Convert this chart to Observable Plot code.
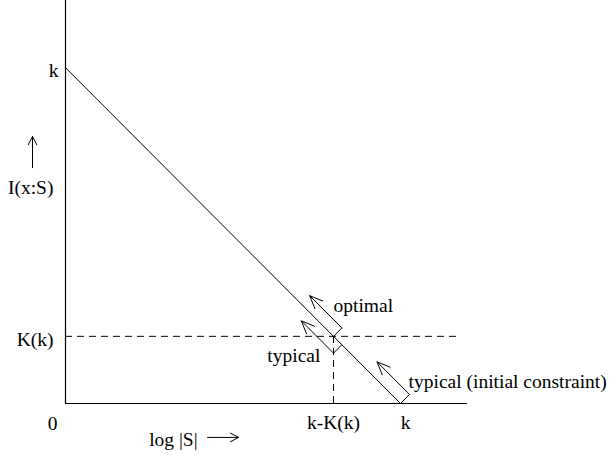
<!DOCTYPE html>
<html>
<head>
<meta charset="utf-8">
<script src="https://cdn.jsdelivr.net/npm/d3@7"></script>
<script src="https://cdn.jsdelivr.net/npm/@observablehq/plot@0.6"></script>
<style>
  html, body { margin: 0; padding: 0; background: #fff; }
  #chart svg { display: block; }
</style>
</head>
<body>
<div id="chart"></div>
<script>
// ---- data (in units of the figure; k = 10, K(k) = 2) ----
const k = 10;
const Kk = 2;
const axisMax = [12, 12];                       // extent of the two axes
const mainLine = [{x: 0, y: k}, {x: k, y: 0}];  // I(x:S) = k - log|S|
const dashedEnd = 11.8;                          // end of dashed K(k) line

// strips: start point on the line, corner, arrow tip
const strips = [
  {name: "optimal",   sx: 8,    sy: 2,    cx: 8.25,  cy: 2.25, tx: 7.29, ty: 3.21},
  {name: "typical",   sx: 8.25, sy: 1.75, cx: 8.0,   cy: 1.5,  tx: 7.04, ty: 2.46},
  {name: "initial",   sx: 10,   sy: 0,    cx: 10.27, cy: 0.27, tx: 9.3,  ty: 1.24}
];

// annotation labels
const annotationsLeft = [
  {text: "optimal", x: 8.0, y: 2.9},
  {text: "typical (initial constraint)", x: 10.24, y: 0.66}
];
const annotationsRight = [
  {text: "typical", x: 7.61, y: 1.43}
];

// tick labels
const yTickK = [{y: k, text: "k"}];
const yTickKk = [{y: Kk, text: "K(k)"}];
const xTickKK = [{x: k - Kk, text: "k-K(k)"}];
const xTickK = [{x: k, text: "k"}];
const originLabel = [{x: 0, y: 0, text: "0"}];

// axis titles and their arrows
const axisTitles = [
  {text: "I(x:S)", x: -1.04, y: 6.42},
  {text: "log |S|", x: 3.22, y: -1.07}
];
const axisArrows = [
  {x1: -0.985, y1: 7.02, x2: -0.985, y2: 7.95},
  {x1: 4.24, y1: -1.01, x2: 5.17, y2: -1.01}
];

const font = "'Liberation Serif', 'Times New Roman', serif";
const fs = 19.5;
const txt = {fill: "black", fontSize: fs, lineAnchor: "middle"};

const plot = Plot.plot({
  width: 612,
  height: 455,
  marginLeft: 65,
  marginRight: 145,
  marginTop: 0,
  marginBottom: 52,
  x: {domain: [0, axisMax[0]], axis: null},
  y: {domain: [0, axisMax[1]], axis: null},
  style: {fontFamily: font, fontSize: fs + "px", background: "#fff", overflow: "visible"},
  marks: [
    // axes
    Plot.ruleX([0], {y1: 0, y2: axisMax[1], stroke: "black", strokeWidth: 1.2}),
    Plot.ruleY([0], {x1: 0, x2: axisMax[0], stroke: "black", strokeWidth: 1.2}),
    // dashed guides
    Plot.ruleY([Kk], {x1: 0, x2: dashedEnd, stroke: "black", strokeWidth: 1, strokeDasharray: "7,5"}),
    Plot.ruleX([k - Kk], {y1: 0, y2: Kk, stroke: "black", strokeWidth: 1, strokeDasharray: "7,5"}),
    // main line
    Plot.line(mainLine, {x: "x", y: "y", stroke: "black", strokeWidth: 1}),
    // strips
    Plot.link(strips, {x1: "sx", y1: "sy", x2: "cx", y2: "cy", stroke: "black", strokeWidth: 1}),
    Plot.arrow(strips, {x1: "cx", y1: "cy", x2: "tx", y2: "ty", stroke: "black", strokeWidth: 1,
      headLength: 21, headAngle: 46}),
    // annotations
    Plot.text(annotationsLeft, {x: "x", y: "y", text: "text", textAnchor: "start", ...txt}),
    Plot.text(annotationsRight, {x: "x", y: "y", text: "text", textAnchor: "end", ...txt}),
    // tick labels
    Plot.text(yTickK, {x: 0, y: "y", text: "text", dx: -7, dy: 3, textAnchor: "end", ...txt}),
    Plot.text(yTickKk, {x: 0, y: "y", text: "text", dx: -12, dy: 3, textAnchor: "end", ...txt}),
    Plot.text(xTickKK, {x: "x", y: 0, text: "text", dy: 19, textAnchor: "middle", ...txt}),
    Plot.text(xTickK, {x: "x", y: 0, text: "text", dx: 5, dy: 19, textAnchor: "middle", ...txt}),
    Plot.text(originLabel, {x: "x", y: "y", text: "text", dx: -13, dy: 20, textAnchor: "middle", ...txt}),
    // axis titles
    Plot.text(axisTitles, {x: "x", y: "y", text: "text", textAnchor: "middle", ...txt}),
    Plot.arrow(axisArrows, {x1: "x1", y1: "y1", x2: "x2", y2: "y2", stroke: "black", strokeWidth: 1,
      headLength: 14, headAngle: 55})
  ]
});
document.getElementById("chart").append(plot);
</script>
</body>
</html>
